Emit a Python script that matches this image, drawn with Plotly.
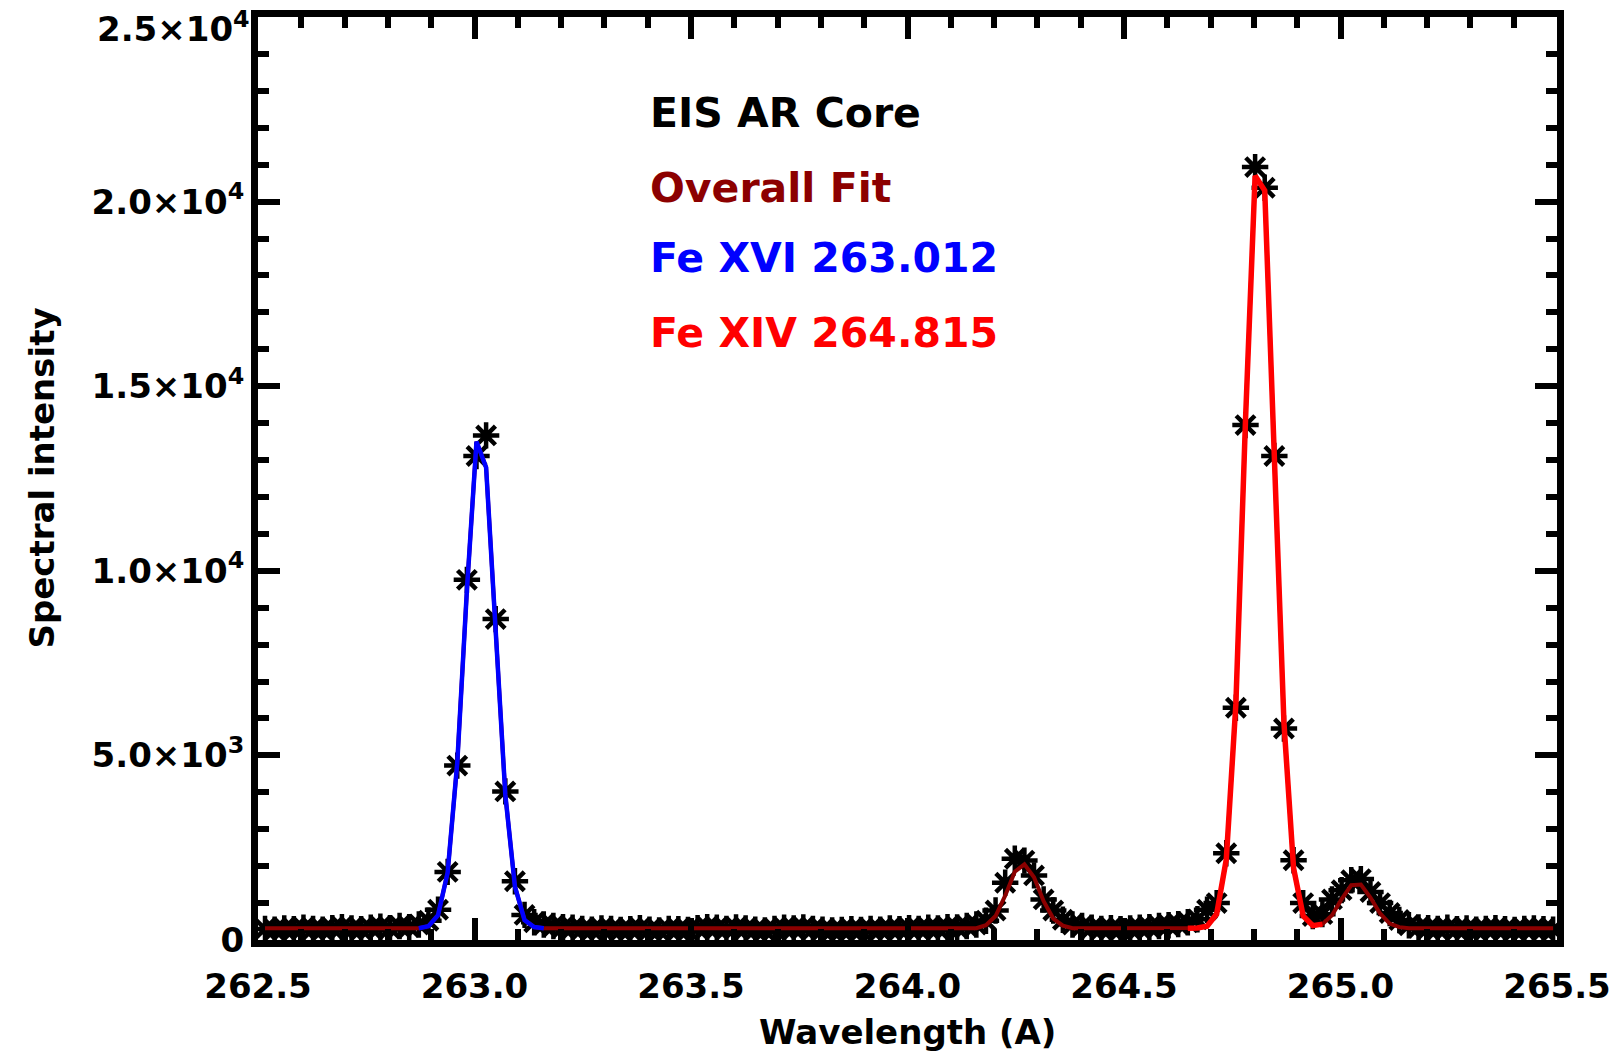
import numpy as np
import plotly.graph_objects as go

# ---- data (EIS spectral pixel grid) ----
wl_start = 262.5162   # Angstrom, first spectral pixel
wl_step = 0.0222      # Angstrom per pixel

intensity = [
    300, 280, 310, 290, 330, 300, 280, 320, 350, 310,
    290, 330, 360, 320, 380, 350, 420, 520, 820, 1845,
    4724, 9755, 13108, 13667, 8692, 4025, 1593, 680, 480, 420,
    380, 350, 330, 300, 280, 310, 300, 270, 290, 320,
    280, 260, 300, 290, 270, 320, 350, 330, 300, 340,
    310, 280, 260, 300, 330, 310, 340, 300, 280, 260,
    270, 290, 270, 300, 280, 310, 290, 320, 300, 330,
    310, 350, 340, 380, 420, 520, 800, 1550, 2200, 2150,
    1750, 1100, 800, 550, 420, 380, 330, 300, 320, 290,
    310, 330, 350, 380, 400, 430, 480, 560, 820, 1000,
    2348, 6289, 13947, 20935, 20376, 13108, 5730, 2160, 1000, 650,
    700, 1100, 1350, 1620, 1650, 1300, 1000, 730, 540, 400,
    340, 320, 300, 330, 290, 310, 280, 300, 320, 290,
    270, 300, 310, 290, 280,
]

overall_fit = [
    320, 320, 320, 320, 320, 320, 320, 320, 320, 320,
    320, 320, 320, 320, 320, 320, 320, 373, 671, 1830,
    4800, 9465, 13500, 12800, 8360, 3935, 1445, 540, 350, 320,
    320, 320, 320, 320, 320, 320, 320, 320, 320, 320,
    320, 320, 320, 320, 320, 320, 320, 320, 320, 320,
    320, 320, 320, 320, 320, 320, 320, 320, 320, 320,
    320, 320, 320, 320, 320, 320, 320, 320, 320, 320,
    320, 320, 320, 320, 320, 400, 650, 1200, 1850, 2050,
    1700, 1050, 580, 390, 320, 320, 320, 320, 320, 320,
    320, 320, 320, 320, 320, 320, 320, 324, 373, 703,
    2180, 6400, 14080, 20700, 20300, 13360, 5880, 1950, 650, 390,
    430, 672, 1107, 1483, 1503, 1149, 720, 445, 348, 320,
    320, 320, 320, 320, 320, 320, 320, 320, 320, 320,
    320, 320, 320, 320, 320,
]

fexvi_range = (16, 30)    # pixel window of the Fe XVI component
fexiv_range = (96, 111)   # pixel window of the Fe XIV component

x_ticks = [262.5, 263.0, 263.5, 264.0, 264.5, 265.0, 265.5]
x_ticklabels = ["262.5", "263.0", "263.5", "264.0", "264.5", "265.0", "265.5"]
y_ticks = [0, 5000, 10000, 15000, 20000, 25000]
y_ticklabels = ["0", "5.0×10<sup>3</sup>", "1.0×10<sup>4</sup>", "1.5×10<sup>4</sup>",
                "2.0×10<sup>4</sup>", "2.5×10<sup>4</sup>"]

labels = ["EIS AR Core", "Overall Fit", "Fe XVI 263.012", "Fe XIV 264.815"]
label_colors = ["#000000", "#8c0000", "#0000ff", "#ff0000"]

# ---- figure ----
wl = wl_start + wl_step * np.arange(len(intensity))

fig = go.Figure()
fig.add_trace(go.Scatter(
    x=wl, y=intensity, mode="markers",
    marker=dict(symbol="asterisk-open", size=22, color="black",
                line=dict(color="black", width=4.5)),
    hoverinfo="skip"))
fig.add_trace(go.Scatter(
    x=wl, y=overall_fit, mode="lines",
    line=dict(color="#8c0000", width=4), hoverinfo="skip"))
a, b = fexvi_range
fig.add_trace(go.Scatter(
    x=wl[a:b], y=overall_fit[a:b], mode="lines",
    line=dict(color="#0000ff", width=4.5), hoverinfo="skip"))
a, b = fexiv_range
fig.add_trace(go.Scatter(
    x=wl[a:b], y=overall_fit[a:b], mode="lines",
    line=dict(color="#ff0000", width=5.5), hoverinfo="skip"))

tickfont = dict(family="DejaVu Sans", size=34, color="black", weight="bold")
axis_common = dict(
    showline=True, linewidth=7, linecolor="black", mirror="allticks",
    ticks="inside", ticklen=22, tickwidth=6, tickcolor="black",
    showgrid=False, zeroline=False, tickfont=tickfont,
    ticklabeloverflow="allow", automargin=False,
)
fig.update_xaxes(range=[262.5, 265.5], tickmode="array", tickvals=x_ticks,
                 ticktext=x_ticklabels, ticklabelstandoff=10,
                 minor=dict(ticks="inside", ticklen=11, tickwidth=6, tickcolor="black",
                            dtick=0.1, tick0=262.5, showgrid=False),
                 **axis_common)
# the top label is drawn as an annotation nudged down so it stays on the page
fig.update_yaxes(range=[0, 25000], tickmode="array", tickvals=y_ticks,
                 ticktext=y_ticklabels[:-1] + [""], ticklabelstandoff=0,
                 minor=dict(ticks="inside", ticklen=11, tickwidth=6, tickcolor="black",
                            dtick=1000, tick0=0, showgrid=False),
                 **axis_common)

annotations = [
    dict(text=y_ticklabels[-1], xref="paper", yref="y", x=0, y=y_ticks[-1],
         xanchor="right", yanchor="top", xshift=-6, yshift=14, showarrow=False,
         font=tickfont),
    dict(text="Wavelength (A)", xref="paper", yref="paper", x=0.5, y=-0.0996,
         xanchor="center", yanchor="middle", showarrow=False,
         font=dict(family="DejaVu Sans", size=34, color="black", weight="bold")),
    dict(text="Spectral intensity", xref="paper", yref="paper", x=-0.167, y=0.5,
         xanchor="center", yanchor="middle", showarrow=False, textangle=-90,
         font=dict(family="DejaVu Sans", size=34, color="black", weight="bold")),
]
label_y = [0.8955, 0.8143, 0.7385, 0.6573]
for txt, col, yy in zip(labels, label_colors, label_y):
    annotations.append(dict(
        text=txt, xref="paper", yref="paper", x=0.300, y=yy,
        xanchor="left", yanchor="middle", showarrow=False,
        font=dict(family="DejaVu Sans", size=41, color=col, weight="bold")))

fig.update_layout(
    width=1621, height=1061,
    margin=dict(l=258, r=64, t=17, b=121, autoexpand=False),
    plot_bgcolor="white", paper_bgcolor="white",
    showlegend=False, annotations=annotations,
)

fig.write_html("out.html")
